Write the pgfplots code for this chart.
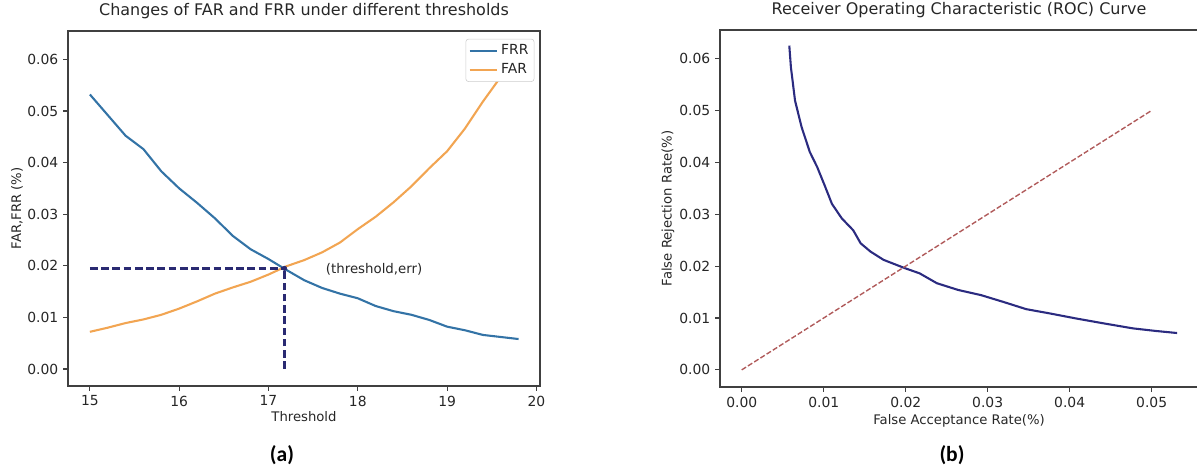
\documentclass[border=0pt]{standalone}
\usepackage{fontspec}
\setmainfont{DejaVu Sans}
\newfontfamily\capfont{Carlito}
\usepackage{pgfplots}
\pgfplotsset{compat=1.18}

\definecolor{frrblue}{HTML}{3373A6}
\definecolor{farorange}{HTML}{F2A552}
\definecolor{eernavy}{HTML}{2A2A72}
\definecolor{rocnavy}{HTML}{2B2B80}
\definecolor{diagred}{HTML}{B05A5A}

\pgfplotsset{
  panel/.style={
    anchor=south west,
    scale only axis,
    axis line style={black!75, line width=0.8pt},
    tick style={black!75, line width=0.8pt},
    tick align=outside,
    major tick length=3.5pt,
    xtick pos=bottom, ytick pos=left,
    scaled x ticks=false, scaled y ticks=false,
    /pgf/number format/assume math mode=true,
    ticklabel style={font=\fontsize{10}{12}\selectfont, text=black!85},
    label style={font=\fontsize{9.5}{11}\selectfont, text=black!85},
    title style={font=\fontsize{11.5}{14}\selectfont, text=black!85, at={(0.5,1)}, anchor=base, yshift=5pt},
    yticklabel style={/pgf/number format/.cd, fixed, fixed zerofill, precision=2},
    ytick={0,0.01,0.02,0.03,0.04,0.05,0.06},
    ymin=-0.0033, ymax=0.0655,
  },
}

\begin{document}
\begin{tikzpicture}
\useasboundingbox (0,0) rectangle (861.84pt,336.96pt);

% (a) FAR / FRR against threshold
\begin{axis}[panel,
  at={(48.96pt,59.04pt)},
  width=339.84pt, height=255.6pt,
  xmin=14.755, xmax=20.04,
  xtick={15,16,17,18,19,20},
  title={Changes of FAR and FRR under different thresholds},
  xlabel={Threshold},
  ylabel={FAR,FRR (\%)},
  xlabel style={at={(axis description cs:0.5,-0.087)}, anchor=center},
  ylabel style={at={(axis description cs:-0.108,0.5)}, anchor=center},
  legend style={at={(0.988,0.978)}, anchor=north east, draw=black!20,
    rounded corners=2pt, font=\fontsize{10}{12}\selectfont, text=black!85,
    inner sep=2pt, row sep=1pt},
  legend cell align=left,
  legend image code/.code={\draw[#1] (0pt,0pt) -- (20pt,0pt);},
]
\addplot[frrblue, line width=1.5pt] coordinates {
  (15.0,0.0532) (15.2,0.0492) (15.4,0.0452) (15.6,0.0426) (15.8,0.0383)
  (16.0,0.0350) (16.2,0.0322) (16.4,0.0292) (16.6,0.0258) (16.8,0.0232)
  (17.0,0.0213) (17.2,0.0192) (17.4,0.0172) (17.6,0.0157) (17.8,0.0146)
  (18.0,0.0137) (18.2,0.0122) (18.4,0.0112) (18.6,0.0105) (18.8,0.0095)
  (19.0,0.0082) (19.2,0.0075) (19.4,0.0066) (19.6,0.0062) (19.8,0.0058)
};
\addlegendentry{FRR}
\addplot[farorange, line width=1.5pt] coordinates {
  (15.0,0.0072) (15.2,0.0080) (15.4,0.0089) (15.6,0.0096) (15.8,0.0105)
  (16.0,0.0117) (16.2,0.0131) (16.4,0.0146) (16.6,0.0158) (16.8,0.0169)
  (17.0,0.0183) (17.2,0.0199) (17.4,0.0211) (17.6,0.0226) (17.8,0.0245)
  (18.0,0.0271) (18.2,0.0295) (18.4,0.0323) (18.6,0.0354) (18.8,0.0389)
  (19.0,0.0422) (19.2,0.0466) (19.4,0.0518) (19.6,0.0566) (19.8,0.0620)
};
\addlegendentry{FAR}
\addplot[eernavy, line width=1.8pt, dash pattern=on 5.5pt off 2.6pt, forget plot]
  coordinates {(15,0.0195) (17.18,0.0195)};
\addplot[eernavy, line width=1.8pt, dash pattern=on 5.5pt off 2.6pt, forget plot]
  coordinates {(17.18,0) (17.18,0.0195)};
\addplot[eernavy, only marks, mark=*, mark size=1.6pt, forget plot]
  coordinates {(17.18,0.0195)};
\node[anchor=west, font=\fontsize{9.6}{11}\selectfont, text=black!85, inner sep=0pt]
  at (axis cs:17.64,0.0194) {(threshold,err)};
\end{axis}

% (b) ROC curve
\begin{axis}[panel,
  at={(518.4pt,58.32pt)},
  width=344.16pt, height=257.04pt,
  xmin=-0.00265, xmax=0.05565,
  xtick={0,0.01,0.02,0.03,0.04,0.05},
  xticklabel style={/pgf/number format/.cd, fixed, fixed zerofill, precision=2},
  title={Receiver Operating Characteristic (ROC) Curve},
  xlabel={False Acceptance Rate(\%)},
  ylabel={False Rejection Rate(\%)},
  xlabel style={at={(axis description cs:0.5,-0.095)}, anchor=center},
  ylabel style={at={(axis description cs:-0.109,0.5)}, anchor=center},
]
\addplot[rocnavy, line width=1.5pt] coordinates {
  (0.0058,0.0625) (0.0060,0.0583) (0.0065,0.0519) (0.0073,0.0468)
  (0.0083,0.0420) (0.0092,0.0391) (0.0101,0.0356) (0.0110,0.0320)
  (0.0122,0.0292) (0.0136,0.0269) (0.0145,0.0244) (0.0157,0.0228)
  (0.0173,0.0212) (0.0199,0.0196) (0.0217,0.0186) (0.0238,0.0167)
  (0.0264,0.0154) (0.0292,0.0144) (0.0319,0.0131) (0.0347,0.0117)
  (0.0375,0.0109) (0.0408,0.0099) (0.0440,0.0090) (0.0477,0.0080)
  (0.0505,0.0075) (0.0531,0.0071)
};
\addplot[diagred, line width=1pt, dash pattern=on 3.7pt off 1.6pt]
  coordinates {(0,0) (0.05,0.05)};
\end{axis}

\node[font=\capfont\bfseries\fontsize{15.5}{17}\selectfont, inner sep=0pt] at (203.04pt,9.5pt) {(a)};
\node[font=\capfont\bfseries\fontsize{15.5}{17}\selectfont, inner sep=0pt] at (685.44pt,9.5pt) {(b)};
\end{tikzpicture}
\end{document}
